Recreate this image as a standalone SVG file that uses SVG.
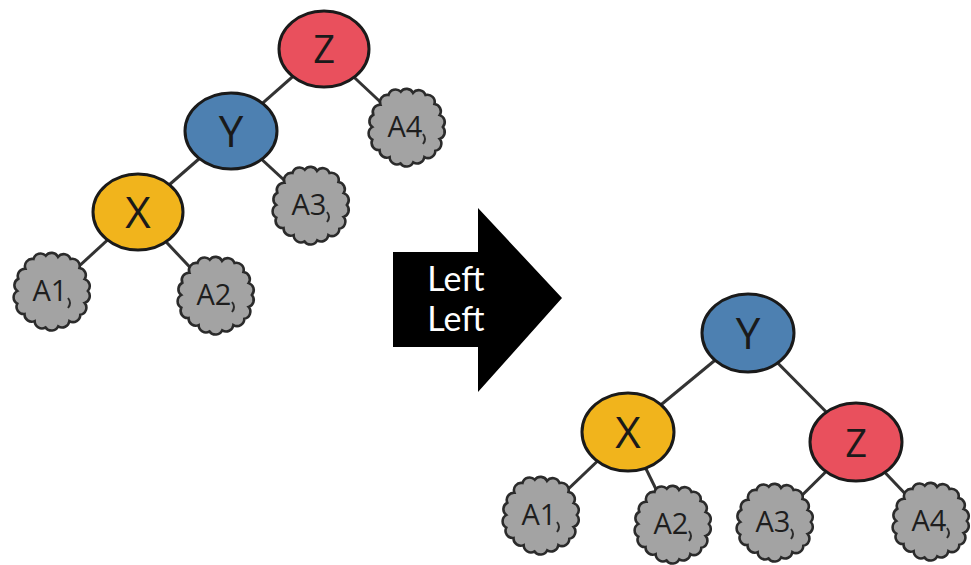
<svg xmlns="http://www.w3.org/2000/svg" width="971" height="565" viewBox="0 0 971 565">
<defs>
<style>
.edge{stroke:#333;stroke-width:3;fill:none}
.node{stroke:#1a1a1a;stroke-width:3}
.z{fill:#e9505d}.y{fill:#4d80b1}.x{fill:#f1b41c}
.cloud{fill:#a3a3a3;stroke:#2b2b2b;stroke-width:2.3}
.curl{fill:none;stroke:#2b2b2b;stroke-width:2}
.nl{font-family:"Open Sans","DejaVu Sans",sans-serif;font-size:44px;fill:#1a1a1a;text-anchor:middle}
.nz{font-size:38px}
.cl{font-family:"Open Sans","DejaVu Sans",sans-serif;font-size:29px;fill:#1e1e1e;text-anchor:middle}
.al{font-family:Lato,"Open Sans",sans-serif;font-size:34px;fill:#fff;text-anchor:middle}
</style>
<path id="cl" d="M32,0 A6.5,6.5 0 0 1 29.13,10.6 A6.5,6.5 0 0 1 25.28,21.21 A6.5,6.5 0 0 1 15.5,26.85 A6.5,6.5 0 0 1 5.56,31.51 A6.5,6.5 0 0 1 -5.73,32.5 A6.5,6.5 0 0 1 -15.5,26.85 A6.5,6.5 0 0 1 -24.51,20.57 A6.5,6.5 0 0 1 -31.01,11.29 A6.5,6.5 0 0 1 -31,0 A6.5,6.5 0 0 1 -30.07,-10.94 A6.5,6.5 0 0 1 -23.75,-19.93 A6.5,6.5 0 0 1 -16.5,-28.58 A6.5,6.5 0 0 1 -5.56,-31.51 A6.5,6.5 0 0 1 5.38,-30.53 A6.5,6.5 0 0 1 16.5,-28.58 A6.5,6.5 0 0 1 24.51,-20.57 A6.5,6.5 0 0 1 29.13,-10.6 A6.5,6.5 0 0 1 32,0 Z"/>
</defs>
<rect width="971" height="565" fill="#fff"/>
<g id="connectors">
<line class="edge" x1="324" y1="49" x2="231" y2="131"/>
<line class="edge" x1="324" y1="49" x2="407" y2="127"/>
<line class="edge" x1="231" y1="131" x2="138" y2="212"/>
<line class="edge" x1="231" y1="131" x2="311" y2="205"/>
<line class="edge" x1="138" y1="212" x2="52" y2="291"/>
<line class="edge" x1="138" y1="212" x2="216" y2="295"/>
<line class="edge" x1="748" y1="333" x2="628" y2="432"/>
<line class="edge" x1="748" y1="333" x2="856" y2="442"/>
<line class="edge" x1="628" y1="432" x2="541" y2="515"/>
<line class="edge" x1="628" y1="432" x2="673" y2="524"/>
<line class="edge" x1="856" y1="442" x2="775" y2="522"/>
<line class="edge" x1="856" y1="442" x2="931" y2="521"/>
</g>
<g id="arrow">
<polygon points="393,252 478,252 478,208 562,298 478,392 478,347 393,347" fill="#000"/>
<text class="al" x="456" y="291">Left</text>
<text class="al" x="456" y="331">Left</text>
</g>
<g id="L-Z"><ellipse class="node z" cx="324" cy="49" rx="45" ry="38"/><text class="nl nz" x="324" y="63">Z</text></g>
<g id="L-Y"><ellipse class="node y" cx="231" cy="131" rx="46" ry="38"/><text class="nl" x="231" y="147">Y</text></g>
<g id="L-X"><ellipse class="node x" cx="138" cy="212" rx="45" ry="38"/><text class="nl" x="138" y="228">X</text></g>
<g id="L-A4"><use href="#cl" class="cloud" transform="translate(407,127) scale(1.12)"/><path class="curl" d="M423,134 q4,5 0,10"/><text class="cl" x="405" y="137">A4</text></g>
<g id="L-A3"><use href="#cl" class="cloud" transform="translate(311,205) scale(1.12)"/><path class="curl" d="M327,212 q4,5 0,10"/><text class="cl" x="309" y="215">A3</text></g>
<g id="L-A1"><use href="#cl" class="cloud" transform="translate(52,291) scale(1.12)"/><path class="curl" d="M68,298 q4,5 0,10"/><text class="cl" x="50" y="301">A1</text></g>
<g id="L-A2"><use href="#cl" class="cloud" transform="translate(216,295) scale(1.12)"/><path class="curl" d="M232,302 q4,5 0,10"/><text class="cl" x="214" y="305">A2</text></g>
<g id="R-Y"><ellipse class="node y" cx="748" cy="333" rx="46" ry="39"/><text class="nl" x="748" y="349">Y</text></g>
<g id="R-X"><ellipse class="node x" cx="628" cy="432" rx="46" ry="39"/><text class="nl" x="628" y="448">X</text></g>
<g id="R-Z"><ellipse class="node z" cx="856" cy="442" rx="46" ry="39"/><text class="nl nz" x="856" y="457">Z</text></g>
<g id="R-A1"><use href="#cl" class="cloud" transform="translate(541,515) scale(1.12)"/><path class="curl" d="M557,522 q4,5 0,10"/><text class="cl" x="539" y="525">A1</text></g>
<g id="R-A2"><use href="#cl" class="cloud" transform="translate(673,524) scale(1.12)"/><path class="curl" d="M689,531 q4,5 0,10"/><text class="cl" x="671" y="534">A2</text></g>
<g id="R-A3"><use href="#cl" class="cloud" transform="translate(775,522) scale(1.12)"/><path class="curl" d="M791,529 q4,5 0,10"/><text class="cl" x="773" y="532">A3</text></g>
<g id="R-A4"><use href="#cl" class="cloud" transform="translate(931,521) scale(1.12)"/><path class="curl" d="M947,528 q4,5 0,10"/><text class="cl" x="929" y="531">A4</text></g>
</svg>
